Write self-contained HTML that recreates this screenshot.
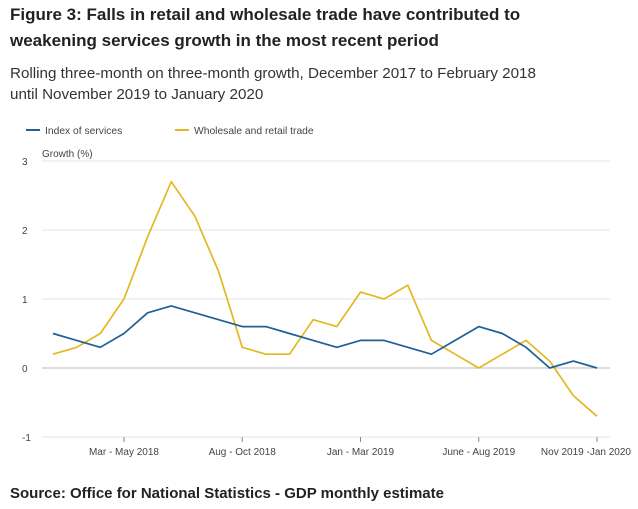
<!DOCTYPE html>
<html><head><meta charset="utf-8"><style>
body{margin:0;background:#fff;font-family:"Liberation Sans",sans-serif;color:#222;width:638px;height:509px;overflow:hidden;position:relative}
.t{position:absolute;left:10px;font-weight:bold;font-size:17px;line-height:26px;top:2px;color:#222;white-space:nowrap}
.s{position:absolute;left:10px;top:63px;font-size:15.2px;line-height:21px;color:#333;white-space:nowrap}
.src{position:absolute;left:10px;top:485px;font-weight:bold;font-size:15px;color:#222;white-space:nowrap}
svg{position:absolute;left:0;top:0}
</style></head><body>
<div class="t">Figure 3: Falls in retail and wholesale trade have contributed to<br>weakening services growth in the most recent period</div>
<div class="s">Rolling three-month on three-month growth, December 2017 to February 2018<br>until November 2019 to January 2020</div>
<div class="src">Source: Office for National Statistics - GDP monthly estimate</div>
<svg id="c" width="638" height="509"></svg>
<script>
const categories=["Dec-Feb 2018","Jan-Mar 2018","Feb-Apr 2018","Mar - May 2018","Apr-Jun 2018","May-Jul 2018","Jun-Aug 2018","Jul-Sep 2018","Aug - Oct 2018","Sep-Nov 2018","Oct-Dec 2018","Nov-Jan 2019","Dec-Feb 2019","Jan - Mar 2019","Feb-Apr 2019","Mar-May 2019","Apr-Jun 2019","May-Jul 2019","June - Aug 2019","Jul-Sep 2019","Aug-Oct 2019","Sep-Nov 2019","Oct-Dec 2019","Nov 2019 -Jan 2020"];
const services=[0.5,0.4,0.3,0.5,0.8,0.9,0.8,0.7,0.6,0.6,0.5,0.4,0.3,0.4,0.4,0.3,0.2,0.4,0.6,0.5,0.3,0.0,0.1,0.0];
const wholesale=[0.2,0.3,0.5,1.0,1.9,2.7,2.2,1.4,0.3,0.2,0.2,0.7,0.6,1.1,1.0,1.2,0.4,0.2,0.0,0.2,0.4,0.1,-0.4,-0.7];
const yTicks=[3,2,1,0,-1];
const xTickIdx=[3,8,13,18,23];
const NS="http://www.w3.org/2000/svg",svg=document.getElementById('c');
const x=i=>53+i*(597-53)/(categories.length-1);
const y=v=>368-v*69;
function mk(t,a,txt){const e=document.createElementNS(NS,t);for(const k in a)e.setAttribute(k,a[k]);if(txt!=null)e.textContent=txt;svg.appendChild(e);return e;}
yTicks.forEach(v=>{
 const g=mk('line',{x1:42,x2:610,y1:y(v),y2:y(v),stroke:v===0?'#bbb':'#e4e4e4','stroke-width':1});
 
 
 const l=mk('text',{x:22,y:y(v)+4,'font-size':10,fill:'#444','font-family':'Liberation Sans'},v);
 
 
});
const yt=mk('text',{x:42,y:157,'font-size':10,fill:'#444','font-family':'Liberation Sans'},'Growth (%)');


xTickIdx.forEach((i,k)=>{
 const t=mk('line',{x1:x(i),x2:x(i),y1:437,y2:442,stroke:'#888'});
 
 
 const last=k===xTickIdx.length-1;
 const l=mk('text',{x:last?631:x(i),y:455,'font-size':10,fill:'#444','text-anchor':last?'end':'middle','font-family':'Liberation Sans'},categories[i]);
 
 
});
function line(d,c,n){const p=mk('polyline',{points:d.map((v,i)=>x(i)+','+y(v)).join(' '),fill:'none',stroke:c,'stroke-width':1.7,'stroke-linejoin':'round'});
 
 }
line(wholesale,'#e3b81f','wholesale-retail-line');
line(services,'#206095','services-line');
[[26,'#206095','Index of services'],[175,'#e3b81f','Wholesale and retail trade']].forEach(([lx,c,t])=>{
 const s=mk('line',{x1:lx,x2:lx+14,y1:130,y2:130,stroke:c,'stroke-width':2});
 
 
 const l=mk('text',{x:lx+19,y:134,'font-size':10.3,fill:'#444','font-family':'Liberation Sans'},t);
 
 
});
</script>
</body></html>
